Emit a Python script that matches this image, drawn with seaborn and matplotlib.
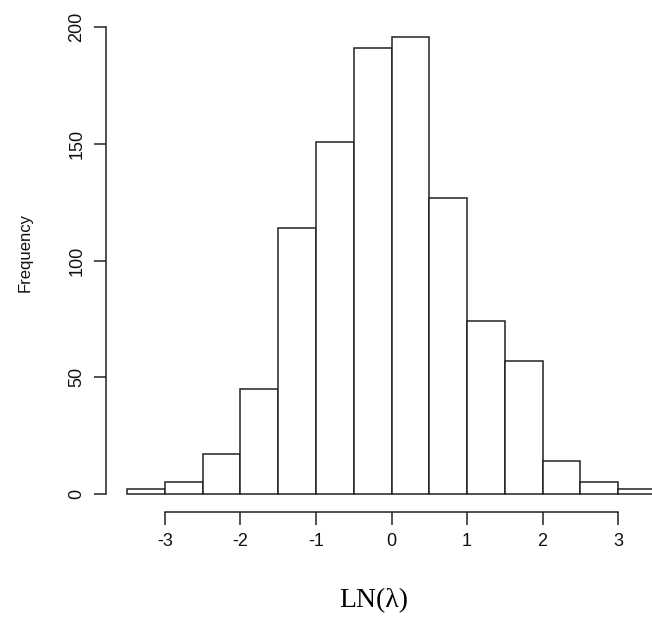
import numpy as np
import pandas as pd
import matplotlib
matplotlib.use("Agg")
import matplotlib.pyplot as plt
import seaborn as sns

# Histogram of LN(lambda): bin edges and counts
breaks = [-3.5, -3.0, -2.5, -2.0, -1.5, -1.0, -0.5, 0.0, 0.5, 1.0, 1.5, 2.0, 2.5, 3.0, 3.5]
counts = [2, 5, 17, 45, 114, 151, 191, 196, 127, 74, 57, 14, 5, 2]
x_ticks = [-3, -2, -1, 0, 1, 2, 3]
y_ticks = [0, 50, 100, 150, 200]
x_label = "LN(λ)"
y_label = "Frequency"

sns.set_theme(style="white")
plt.rcParams["font.family"] = ["Liberation Sans", "DejaVu Sans"]

edges = np.array(breaks)
mids = (edges[:-1] + edges[1:]) / 2
df = pd.DataFrame({"x": mids, "n": counts})

W, H = 652, 621
fig = plt.figure(figsize=(W / 100, H / 100), dpi=100)
fig.patch.set_facecolor("white")
ax = fig.add_axes([106 / W, (H - 512.3) / H, (677 - 106) / W, 493.9 / H])
ax.set_facecolor("none")

sns.histplot(data=df, x="x", weights="n", bins=breaks, ax=ax,
             stat="count", element="bars", fill=True,
             color="white", edgecolor="#222222", linewidth=1.1, alpha=1)

ax.set_xlim(-3.78, 3.78)
ax.set_ylim(-7.84, 203.84)
ax.set_xticks(x_ticks)
ax.set_xticklabels([str(v) for v in x_ticks])
ax.set_yticks(y_ticks)
ax.set_yticklabels([str(v) for v in y_ticks], rotation=90, va="center")

for s in ["top", "right"]:
    ax.spines[s].set_visible(False)
for s in ["left", "bottom"]:
    ax.spines[s].set_color("#222222")
    ax.spines[s].set_linewidth(1.1)
ax.spines["left"].set_bounds(0, 200)
ax.spines["bottom"].set_bounds(-3, 3)

ax.tick_params(axis="both", direction="out", length=9, width=1.1,
               color="#222222", labelsize=13, labelcolor="#111111",
               left=True, bottom=True)
ax.tick_params(axis="y", pad=6)
ax.tick_params(axis="x", pad=6)
ax.set_xlabel("")
ax.set_ylabel("")

fig.text(25 / W, 1 - 252 / H, y_label, rotation=90, ha="center", va="center",
         fontsize=12, color="#111111")
fig.text(374 / W, 1 - 601 / H, x_label, ha="center", va="center",
         fontsize=20, color="black", family=["Liberation Serif", "DejaVu Serif"])

fig.savefig("out.png", dpi=100, facecolor="white")
